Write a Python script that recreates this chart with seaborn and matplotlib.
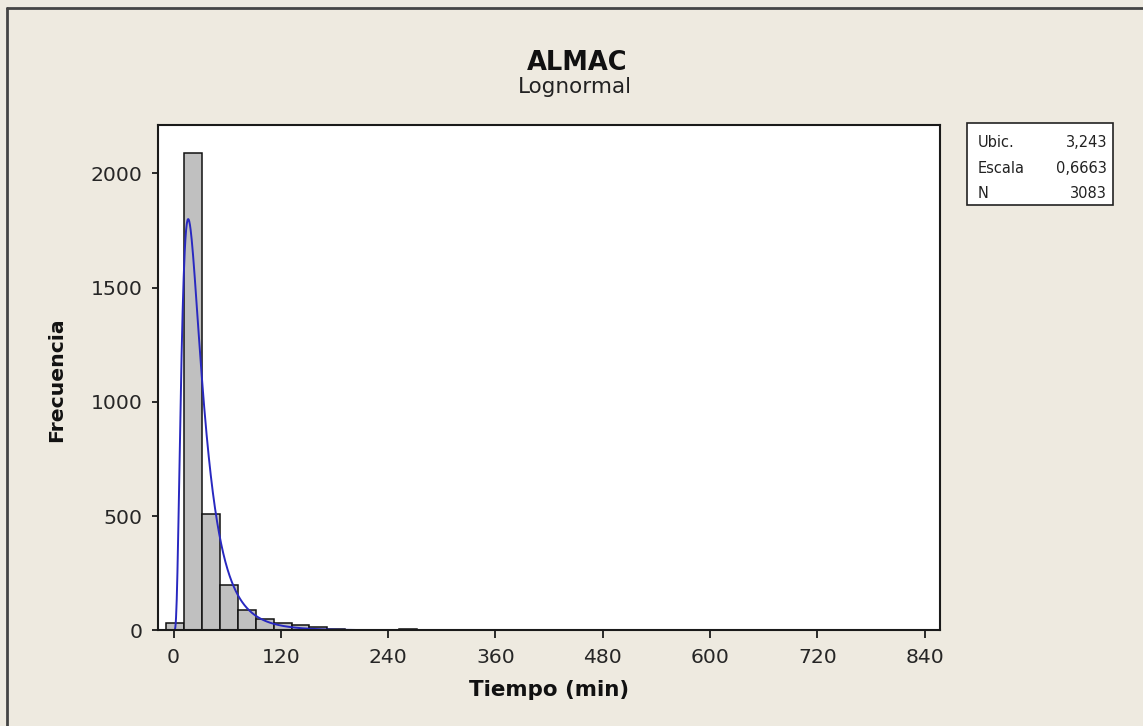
import numpy as np
import pandas as pd
import matplotlib
matplotlib.use("Agg")
import matplotlib.pyplot as plt
import seaborn as sns
from matplotlib.lines import Line2D
from matplotlib.patches import Rectangle

# Histogram of waiting times (bin midpoints in minutes, counts per bin)
tiempo_mid = [2, 22, 42, 62, 82, 102, 122, 142, 162, 182, 202, 222, 242, 262,
              282, 302, 342, 402, 562, 842]
frecuencia = [34, 2088, 511, 197, 88, 50, 30, 22, 14, 6, 1, 1, 1, 5,
              2, 1, 1, 1, 1, 1]
bin_width = 20
bin_start = -8
bin_stop = 852

# Fitted lognormal parameters
ubic = 3.243
escala = 0.6663
n_obs = 3083

x_ticks = [0, 120, 240, 360, 480, 600, 720, 840]
y_ticks = [0, 500, 1000, 1500, 2000]

bg = "#eeeae0"
sns.set_theme(style="white")
plt.rcParams["font.family"] = ["DejaVu Sans"]

fig = plt.figure(figsize=(11.43, 7.26), dpi=100, facecolor=bg)
W, H = 1143, 726
ax = fig.add_axes([158.3 / W, 1 - 630.3 / H, (940 - 158.3) / W, (630.3 - 124.7) / H])
ax.set_facecolor("white")

hist_df = pd.DataFrame({"tiempo": tiempo_mid, "frecuencia": frecuencia})
sns.histplot(data=hist_df, x="tiempo", weights="frecuencia",
             binwidth=bin_width, binrange=(bin_start, bin_stop), ax=ax,
             color="#c0c0c0", edgecolor="#111111", linewidth=1.1, alpha=1.0)

# Lognormal density scaled to counts per bin
xf = np.linspace(0.5, 311, 800)
pdf = np.exp(-(np.log(xf) - ubic) ** 2 / (2 * escala ** 2)) / (xf * escala * np.sqrt(2 * np.pi))
ax.plot(xf, pdf * n_obs * bin_width, color="#2828c0", linewidth=1.4)

ax.set_xlim(-17, 857)
ax.set_ylim(0, 2213)
ax.set_xticks(x_ticks)
ax.set_yticks(y_ticks)
ax.set_xlabel("")
ax.set_ylabel("")
for s in ax.spines.values():
    s.set_color("#1a1a1a")
    s.set_linewidth(1.5)
ax.tick_params(axis="both", which="major", direction="out", width=1.3,
               color="#1a1a1a", labelsize=14.7, labelcolor="#262626",
               bottom=True, left=True)
ax.tick_params(axis="x", length=5.8, pad=7)
ax.tick_params(axis="y", length=4.5, pad=7)

fig.text(577 / W, 1 - 70 / H, "ALMAC", ha="center", va="baseline",
         fontsize=18.5, fontweight="bold", color="#111111")
fig.text(575 / W, 1 - 93 / H, "Lognormal", ha="center", va="baseline",
         fontsize=15.5, color="#222222")
fig.text(549 / W, 1 - 696 / H, "Tiempo (min)", ha="center", va="baseline",
         fontsize=15.4, fontweight="bold", color="#111111")
fig.text(56.5 / W, 1 - 380 / H, "Frecuencia", ha="center", va="center",
         rotation=90, fontsize=14.7, fontweight="bold", color="#111111")

# Parameter box
bx0, by0, bx1, by1 = 967, 123, 1113, 205
fig.patches.append(Rectangle((bx0 / W, 1 - by1 / H), (bx1 - bx0) / W, (by1 - by0) / H,
                             transform=fig.transFigure, facecolor="white",
                             edgecolor="#222222", linewidth=1.2))
rows = [("Ubic.", "3,243"), ("Escala", "0,6663"), ("N", "3083")]
for i, (lab, val) in enumerate(rows):
    yy = 1 - (142.5 + i * 25.7) / H
    fig.text(978 / W, yy, lab, ha="left", va="center", fontsize=10.5, color="#222222")
    fig.text(1107 / W, yy, val, ha="right", va="center", fontsize=10.5, color="#222222")

# Window frame edges
fig.lines.append(Line2D([7 / W, 7 / W], [0, 1 - 8 / H], transform=fig.transFigure,
                        color="#444444", linewidth=2))
fig.lines.append(Line2D([7 / W, 1], [1 - 8 / H, 1 - 8 / H], transform=fig.transFigure,
                        color="#444444", linewidth=2))

fig.savefig("out.png", dpi=100, facecolor=bg)
